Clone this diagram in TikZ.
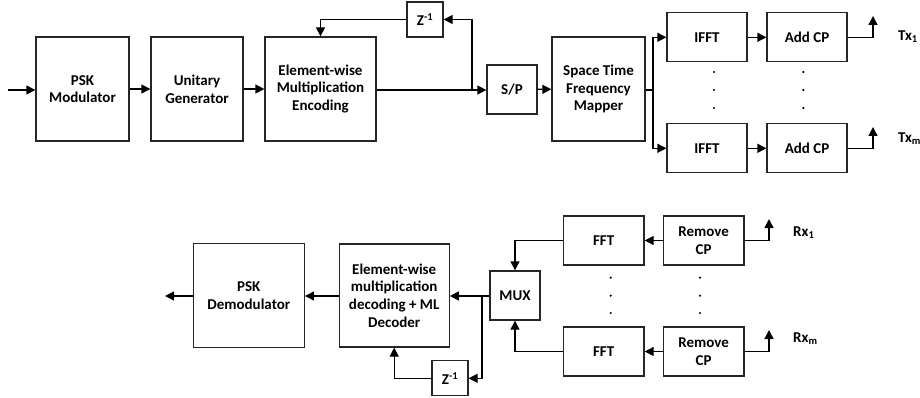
\documentclass[tikz,border=0pt]{standalone}
\usepackage{fontspec}
\setmainfont{Carlito}
\usetikzlibrary{arrows.meta}
\begin{document}
\begin{tikzpicture}[x=1pt,y=-1pt,
  font=\bfseries\fontsize{15}{17.7}\selectfont,
  blk/.style={draw=black!85,line width=1.3pt,inner sep=0pt,align=center},
  arr/.style={line width=1.3pt,-{Triangle[length=9pt,width=9pt]}},
  ln/.style={line width=1.3pt},
  lbl/.style={anchor=west,inner sep=0pt}]
\useasboundingbox (0,0) rectangle (920,398);

% ---------------- transmitter ----------------
\node[blk,minimum width=93pt,minimum height=104pt] (psk) at (82.5,89) {PSK\\Modulator};
\node[blk,minimum width=92pt,minimum height=104pt] (uni) at (197,89) {Unitary\\Generator};
\node[blk,minimum width=111pt,minimum height=104pt] (enc) at (320.5,89) {Element-wise\\Multiplication\\Encoding};
\node[blk,minimum width=36pt,minimum height=35pt] (zt) at (425,19.5) {Z\textsuperscript{-1}};
\node[blk,minimum width=50pt,minimum height=49pt] (sp) at (512,89.5) {S/P};
\node[blk,minimum width=93pt,minimum height=104pt] (stf) at (598.5,89) {Space Time\\Frequency\\Mapper};
\node[blk,minimum width=80pt,minimum height=49pt] (ifa) at (707,37.3) {IFFT};
\node[blk,minimum width=80pt,minimum height=49pt] (cpa) at (807,37.3) {Add CP};
\node[blk,minimum width=80pt,minimum height=49pt] (ifb) at (707,148.3) {IFFT};
\node[blk,minimum width=80pt,minimum height=49pt] (cpb) at (807,148.3) {Add CP};

\coordinate (txin) at (8,90);
\coordinate (ja) at (472,90);
\coordinate (jb) at (653,90);
\coordinate (anta) at (873,16);
\coordinate (antb) at (873,127);

\node[lbl] (tx1) at (898,37) {Tx\textsubscript{1}};
\node[lbl] (txm) at (898,139) {Tx\textsubscript{m}};

\draw[arr] (txin) -- (txin -| psk.west);
\draw[arr] (psk) -- (uni);
\draw[arr] (uni) -- (enc);
\draw[ln] (enc.east |- ja) -- (ja);
\draw[arr] (ja) -- (ja -| sp.west);
\draw[arr] (ja) |- (zt.east);
\draw[arr] (zt.west) -| (enc.north);
\draw[arr] (sp) -- (stf);
\draw[ln] (stf.east |- jb) -- (jb);
\draw[arr] (jb) |- (ifa.west);
\draw[arr] (jb) |- (ifb.west);
\draw[arr] (ifa) -- (cpa);
\draw[arr] (ifb) -- (cpb);
\draw[arr] (cpa.east) -| (anta);
\draw[arr] (cpb.east) -| (antb);

\foreach \yy in {72,90,108}{
  \fill (714,\yy) circle (1.2pt);
  \fill (803.3,\yy) circle (1.2pt);
}

% ---------------- receiver ----------------
\node[blk,minimum width=111pt,minimum height=104pt] (dem) at (248.8,295.5) {PSK\\Demodulator};
\node[blk,minimum width=110pt,minimum height=103pt] (dec) at (394.2,295.5) {Element-wise\\multiplication\\decoding + ML\\Decoder};
\node[blk,minimum width=36pt,minimum height=35pt] (zb) at (450,378.3) {Z\textsuperscript{-1}};
\node[blk,minimum width=50pt,minimum height=49pt] (mux) at (515,295.5) {MUX};
\node[blk,minimum width=80.7pt,minimum height=49pt] (ffa) at (603.7,240.5) {FFT};
\node[blk,minimum width=80.7pt,minimum height=49pt] (rca) at (703.7,240.5) {Remove\\CP};
\node[blk,minimum width=80.7pt,minimum height=49pt] (ffb) at (603.7,351.5) {FFT};
\node[blk,minimum width=80.7pt,minimum height=49pt] (rcb) at (703.7,351.5) {Remove\\CP};

\coordinate (rxout) at (165,296);
\coordinate (jc) at (482,296);
\coordinate (rant) at (769,219);
\coordinate (rbnt) at (769,330);

\node[lbl] (rx1) at (793,233) {Rx\textsubscript{1}};
\node[lbl] (rxm) at (793,339) {Rx\textsubscript{m}};

\draw[arr] (dem.west |- rxout) -- (rxout);
\draw[arr] (dec.west |- rxout) -- (dem.east |- rxout);
\draw[arr] (mux.west |- jc) -- (dec.east |- jc);
\draw[arr] (jc) |- (zb.east);
\draw[arr] (zb.west) -| (dec.south);
\draw[arr] (ffa.west) -| (mux.north);
\draw[arr] (ffb.west) -| (mux.south);
\draw[arr] (rca) -- (ffa);
\draw[arr] (rcb) -- (ffb);
\draw[arr] (rca.east) -| (rant);
\draw[arr] (rcb.east) -| (rbnt);

\foreach \yy in {277.7,295.7,313}{
  \fill (610.7,\yy) circle (1.2pt);
  \fill (700,\yy) circle (1.2pt);
}
\end{tikzpicture}
\end{document}
